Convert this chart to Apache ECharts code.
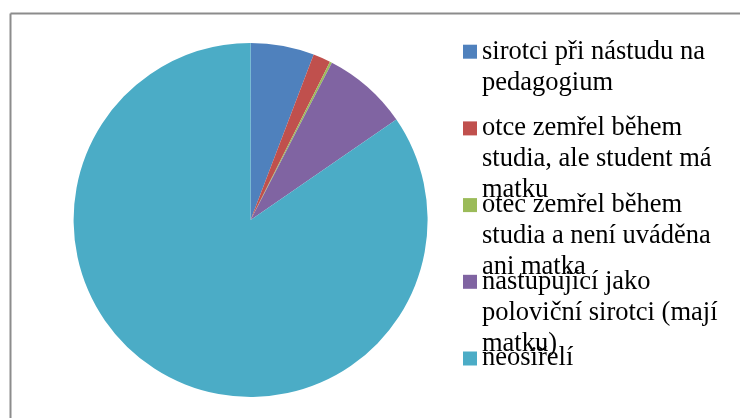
<!DOCTYPE html>
<html>
<head>
<meta charset="utf-8">
<script src="https://cdn.jsdelivr.net/npm/echarts@6/dist/echarts.min.js"></script>
<style>
  html, body { margin: 0; padding: 0; background: #fff; }
  #main { width: 740px; height: 418px; }
</style>
</head>
<body>
<div id="main"></div>
<script>
// kategorie (legend texts, with line breaks as in the picture)
var categories = [
  "sirotci při nástudu na\npedagogium",
  "otce zemřel během\nstudia, ale student má\nmatku",
  "otec zemřel během\nstudia a není uváděna\nani matka",
  "nastupující jako\npoloviční sirotci (mají\nmatku)",
  "neosiřelí"
]
var values = [29, 8, 1, 39, 423]
var colors = ["#4F81BD", "#C0504D", "#9BBB59", "#8064A2", "#4BACC6"]

var LINE_H = 31

var myChart = echarts.init(document.getElementById("main"))

// every legend text is padded to 5 lines so the first real line sits on the marker
function padLegend(name) {
  var out = ["", ""].concat(name.split("\n"))
  while (out.length < 5) out.push("")
  return out.join("\n")
}

var option = {
  animation: false,
  color: colors,
  graphic: [
    {
      type: "line",
      shape: { x1: 10.5, y1: 13.5, x2: 740, y2: 13.5 },
      style: { stroke: "#8c8c8c", lineWidth: 2 },
      silent: true
    },
    {
      type: "line",
      shape: { x1: 10.5, y1: 13.5, x2: 10.5, y2: 418 },
      style: { stroke: "#8c8c8c", lineWidth: 2 },
      silent: true
    }
  ],
  legend: {
    orient: "vertical",
    left: 463,
    top: 51.7 - 2.5 * LINE_H,
    height: 3000,
    padding: 0,
    itemWidth: 14,
    itemHeight: 14,
    itemGap: 76.7 - 5 * LINE_H,
    icon: "rect",
    selectedMode: false,
    formatter: padLegend,
    data: categories,
    textStyle: {
      fontFamily: "Liberation Serif",
      fontSize: 26.5,
      lineHeight: LINE_H,
      color: "#000"
    }
  },
  series: [
    {
      name: "sirotci",
      type: "pie",
      center: [250.6, 220],
      radius: 177,
      startAngle: 90,
      clockwise: true,
      label: { show: false },
      labelLine: { show: false },
      emphasis: { disabled: true },
      itemStyle: { borderWidth: 0 },
      data: categories.map(function (name, i) {
        return { name: name, value: values[i] }
      })
    }
  ]
}

myChart.setOption(option)
</script>
</body>
</html>
